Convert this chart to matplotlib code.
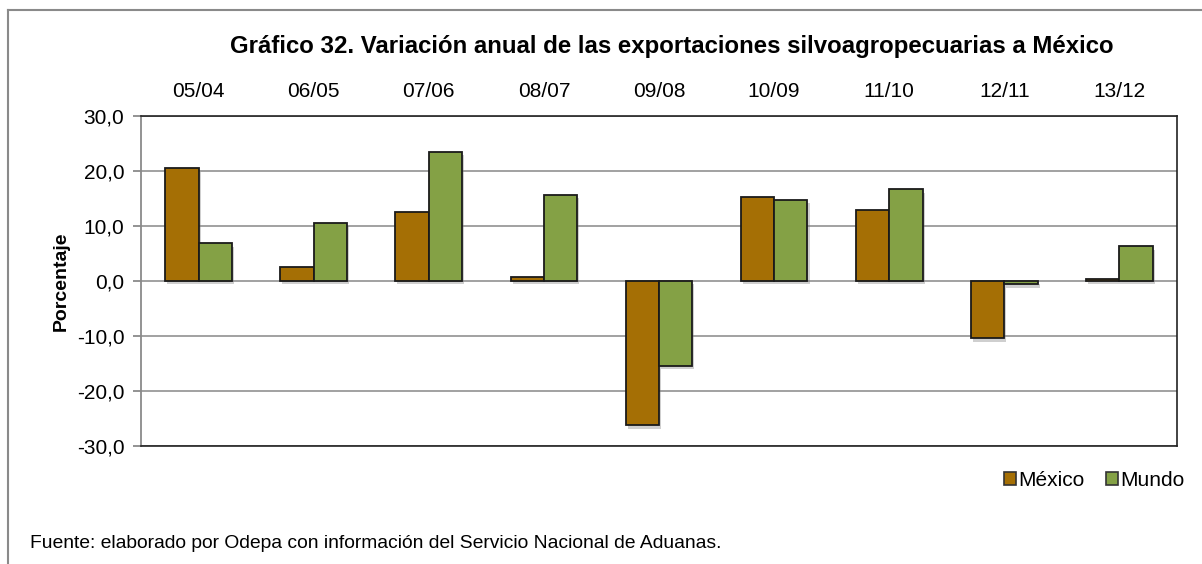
import numpy as np
import matplotlib.pyplot as plt
import matplotlib.patheffects as pe
from matplotlib.lines import Line2D

# data
periodos = ['05/04', '06/05', '07/06', '08/07', '09/08', '10/09', '11/10', '12/11', '13/12']
mexico = [20.5, 2.5, 12.5, 0.8, -26.2, 15.2, 13.0, -10.4, 0.4]
mundo = [6.9, 10.6, 23.5, 15.7, -15.4, 14.8, 16.7, -0.6, 6.3]
y_ticks = [-30, -20, -10, 0, 10, 20, 30]

col_mex = '#A56F05'
col_mun = '#84A145'

plt.rcParams['font.family'] = ['Liberation Sans', 'DejaVu Sans']

fig = plt.figure(figsize=(12.02, 5.64), dpi=100)
ax = fig.add_axes([141 / 1202, 1 - 446 / 564, 1036 / 1202, 330 / 564])

x = np.arange(len(periodos))
w = 0.29
shadow = [pe.SimplePatchShadow(offset=(1.5, -2.5), shadow_rgbFace='#777777', alpha=0.35), pe.Normal()]
b1 = ax.bar(x - w / 2, mexico, w, color=col_mex, edgecolor='#1a1a1a', linewidth=1.3, zorder=3)
b2 = ax.bar(x + w / 2, mundo, w, color=col_mun, edgecolor='#1a1a1a', linewidth=1.3, zorder=3)
for b in list(b1) + list(b2):
    b.set_path_effects(shadow)

ax.set_xlim(-0.5, len(periodos) - 0.5)
ax.set_ylim(-30, 30)
ax.set_yticks(y_ticks)
ax.set_yticklabels([f'{v:.1f}'.replace('.', ',') for v in y_ticks], fontsize=15)
ax.yaxis.grid(True, color='#9a9a9a', linewidth=1.3, zorder=0)
ax.set_axisbelow(True)

ax.xaxis.tick_top()
ax.set_xticks(x)
ax.set_xticklabels(periodos, fontsize=15)
ax.tick_params(axis='x', length=0, pad=11)
ax.tick_params(axis='y', length=6, width=1.3, color='#8a8a8a', pad=6)

for s in ['top', 'right', 'bottom']:
    ax.spines[s].set_color('#222222')
    ax.spines[s].set_linewidth(1.2)
ax.spines['left'].set_color('#8a8a8a')
ax.spines['left'].set_linewidth(1.3)

ax.set_ylabel('Porcentaje', fontsize=14, fontweight='bold', labelpad=5)

fig.text(672 / 1202, 1 - 47 / 564, 'Gráfico 32. Variación anual de las exportaciones silvoagropecuarias a México',
         ha='center', va='center', fontsize=17.3, fontweight='bold')

fig.text(30 / 1202, 1 - 544 / 564, 'Fuente: elaborado por Odepa con información del Servicio Nacional de Aduanas.',
         ha='left', va='center', fontsize=13.9)

handles = [plt.Rectangle((0, 0), 1, 1, facecolor=col_mex, edgecolor='#333333', linewidth=1.2),
           plt.Rectangle((0, 0), 1, 1, facecolor=col_mun, edgecolor='#333333', linewidth=1.2)]
fig.legend(handles, ['México', 'Mundo'], loc='center right', bbox_to_anchor=(1199 / 1202, 1 - 480 / 564),
           ncol=2, frameon=False, fontsize=15, handlelength=0.6, handleheight=0.6,
           handletextpad=0.1, columnspacing=1.0, borderpad=0.2)

# outer frame (left and top edges visible)
fig.add_artist(Line2D([8 / 1202, 8 / 1202], [0, 1 - 10 / 564], transform=fig.transFigure,
                      color='#8a8a8a', linewidth=1.5))
fig.add_artist(Line2D([8 / 1202, 1], [1 - 10 / 564, 1 - 10 / 564], transform=fig.transFigure,
                      color='#8a8a8a', linewidth=1.5))

fig.savefig('out.png', dpi=100)
